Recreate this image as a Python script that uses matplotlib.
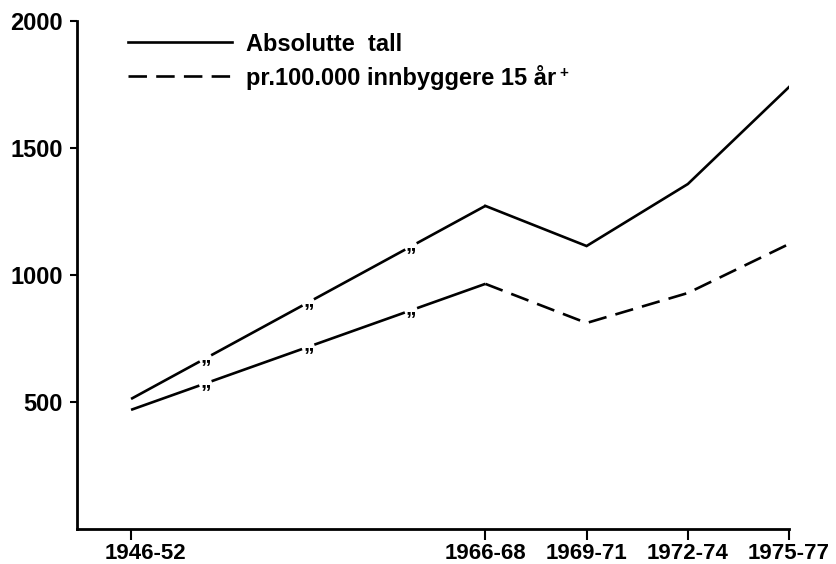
import numpy as np
import matplotlib
matplotlib.use("Agg")
import matplotlib.pyplot as plt
from matplotlib.transforms import ScaledTranslation

# ---------------------------------------------------------------------------
# Data
# ---------------------------------------------------------------------------
periods = ["1946-52", "1966-68", "1969-71", "1972-74", "1975-77"]
x_pos = [0, 3.5, 4.5, 5.5, 6.5]          # axis is compressed between 1946-52 and 1966-68
absolutte = [512, 1272, 1114, 1358, 1740]
per_100k = [469, 965, 811, 929, 1122]

y_ticks = [500, 1000, 1500, 2000]
label_abs = "Absolutte  tall"
label_rel = "pr.100.000 innbyggere 15 år"

# break marks on the compressed first segment (fractions along it)
BREAK_FRACS = [0.21, 0.5, 0.79]
GAP_PX = 13

plt.rcParams.update({
    "font.family": "Liberation Sans",
    "font.weight": "bold",
    "font.size": 17,
})

LW = 1.9
fig = plt.figure(figsize=(8.37, 5.64), dpi=100)
ax = fig.add_axes([0.092, 0.0621, 0.8507, 0.9007])
ax.set_xlim(-0.534, 6.5)
ax.set_ylim(0, 2000)

for side in ("top", "right"):
    ax.spines[side].set_visible(False)
for side in ("left", "bottom"):
    ax.spines[side].set_linewidth(2.0)

ax.set_yticks(y_ticks)
ax.set_yticklabels([str(v) for v in y_ticks])
ax.set_xticks(x_pos)
ax.set_xticklabels(periods, fontsize=16)
ax.tick_params(axis="y", length=5, width=1.5, pad=5)
ax.tick_params(axis="x", length=8, width=1.5, pad=2)

# first period label sits a bit to the right of its tick in the original
first = ax.get_xticklabels()[0]
first.set_transform(first.get_transform()
                    + ScaledTranslation(10 / 72, 0, fig.dpi_scale_trans))


def draw_broken(x0, y0, x1, y1):
    """Solid segment with gaps and ditto marks (axis break)."""
    p0 = ax.transData.transform((x0, y0))
    p1 = ax.transData.transform((x1, y1))
    half = GAP_PX / np.hypot(*(p1 - p0)) / 2
    cuts = [0.0]
    for f in BREAK_FRACS:
        cuts += [f - half, f + half]
    cuts.append(1.0)
    for a, b in zip(cuts[::2], cuts[1::2]):
        ax.plot([x0 + a * (x1 - x0), x0 + b * (x1 - x0)],
                [y0 + a * (y1 - y0), y0 + b * (y1 - y0)],
                color="black", lw=LW, solid_capstyle="butt")
    for f in BREAK_FRACS:
        ax.annotate("\u201d", (x0 + f * (x1 - x0), y0 + f * (y1 - y0)),
                    xytext=(0, -6.5), textcoords="offset points",
                    ha="center", va="center", fontsize=15)


draw_broken(x_pos[0], absolutte[0], x_pos[1], absolutte[1])
draw_broken(x_pos[0], per_100k[0], x_pos[1], per_100k[1])

h_abs, = ax.plot(x_pos[1:], absolutte[1:], color="black", lw=LW,
                 solid_joinstyle="miter", label=label_abs)
h_rel, = ax.plot(x_pos[1:], per_100k[1:], color="black", lw=LW,
                 dashes=(7, 3.5), label=label_rel)

leg = ax.legend(handles=[h_abs, h_rel], loc="upper left",
                bbox_to_anchor=(0.072, 0.977), frameon=False,
                borderpad=0, borderaxespad=0, handlelength=4.4,
                handletextpad=0.6, labelspacing=0.38)

# small raised "+" after the second legend label
fig.canvas.draw()
txt = leg.get_texts()[1]
bb = txt.get_window_extent()
fig.text((bb.x1 + 3) / fig.bbox.width, (bb.y1 - 8) / fig.bbox.height, "+",
         fontsize=11, ha="left", va="center")

fig.savefig("out.png", dpi=100)
